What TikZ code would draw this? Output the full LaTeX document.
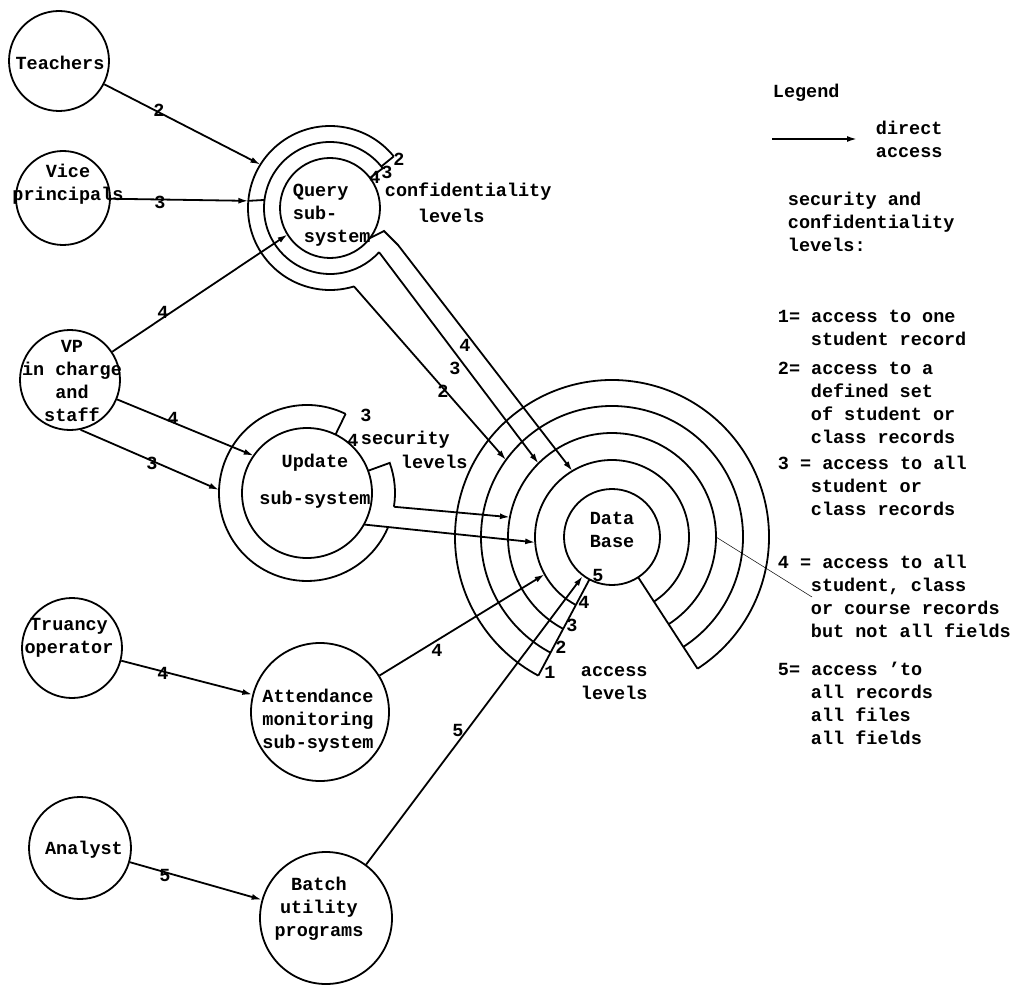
\documentclass[tikz,border=0pt]{standalone}
\usepackage{fontspec}
\setmainfont{Liberation Mono}
\usetikzlibrary{arrows.meta,calc}
\begin{document}
\begin{tikzpicture}[x=1pt,y=-1pt,line width=1.8pt,actor/.style={shape=circle,draw=black,inner sep=0pt,minimum size=#1},txt/.style={font=\fontsize{18.5}{23}\selectfont\bfseries,inner sep=0pt,align=center},lvl/.style={txt},acc/.style={-{Latex[length=10pt,width=6pt]}},leader/.style={line width=0.5pt}]
\useasboundingbox (0,0) rectangle (1024,984);
\def\qa{50};
\def\qb{66};
\def\qc{82};
\def\ua{65};
\def\ub{88};
\def\ra{157};
\def\rb{131};
\def\rc{104};
\def\rd{77};

\node[actor=100] (Te) at (59,61) {};
\node[txt] (Tet) at (60,63) {Teachers};
\node[actor=94] (Vi) at (63,198) {};
\node[txt] (Vit) at (68,184) {Vice\\principals};
\node[actor=100] (VP) at (70,380) {};
\node[txt] (VPt) at (72,381) {VP\\in charge\\and\\staff};
\node[actor=100] (Tr) at (72,648) {};
\node[txt] (Trt) at (69,638) {Truancy\\operator};
\node[actor=102] (An) at (80,848) {};
\node[txt] (Ant) at (84,850) {Analyst};

\node[actor=100] (Q) at (330,208) {};
\node[txt,align=left,anchor=west] (Qt) at (292,215) {Query\\sub-\\\hspace*{11pt}system};
\node[actor=130] (U) at (307,493) {};
\node[txt] (Ut) at (315,481) {Update\\[14pt]sub-system};
\node[actor=138] (At) at (320,712) {};
\node[txt] (Att) at (318,721) {Attendance\\monitoring\\sub-system};
\node[actor=132] (Ba) at (326,918) {};
\node[txt] (Bat) at (319,909) {Batch\\utility\\programs};
\node[actor=96] (DB) at (612,537) {};
\node[txt] (DBt) at (612,530) {Data\\Base};

\draw ($(Q)+(321:\qc)$) arc[start angle=321,end angle=73,radius=\qc];
\draw ($(Q)+(323:\qb)$) arc[start angle=323,end angle=42,radius=\qb];
\draw ($(Q)+(321:\qc)$) -- ($(Q)+(321:\qb)$);
\draw ($(Q)+(323:\qb)$) -- ($(Q)+(323:\qa)$);
\node[lvl] (Q2) at (399,159) {2};
\node[lvl] (Q4) at (375,177) {4};
\node[lvl] (Q3) at (387,172) {3};
\node[txt,anchor=west] (Qc) at (384,192) {confidentiality};
\node[txt,anchor=west] (Ql) at (417,216) {levels};

\draw ($(U)+(296:\ub)$) arc[start angle=296,end angle=23,radius=\ub];
\draw ($(U)+(296:\ua)$) -- ($(U)+(296:\ub)$);
\draw ($(U)+(340:\ua)$) -- ($(U)+(340:\ub)$) arc[start angle=340,end angle=369,radius=\ub];
\node[lvl] (U3) at (366,415) {3};
\node[lvl] (U4) at (353,440) {4};
\node[txt,anchor=west] (Us) at (360,440) {security};
\node[txt,anchor=west] (Ul) at (400,462) {levels};

\foreach \rad in {\ra,\rb,\rc,\rd}
  \draw ($(DB)+(57:\rad)$) arc[start angle=57,end angle=-242,radius=\rad];
\draw ($(DB)+(57:48)$) -- ($(DB)+(57:\ra)$);
\draw ($(DB)+(118:48)$) -- ($(DB)+(118:\ra)$);
\node[lvl] (D1) at (550,672) {1};
\node[lvl] (D2) at (561,647) {2};
\node[lvl] (D3) at (572,625) {3};
\node[lvl] (D4) at (584,602) {4};
\node[lvl] (D5) at (598,575) {5};
\node[txt,align=left,anchor=west] (Da) at (580,683) {access\\levels};

\draw[acc] (Te) -- ($(Q)+(212:\qc)$);
\node[lvl] (Te2) at (159,110) {2};
\draw[acc] (Vi) -- ($(Q)+(185:\qc)$);
\draw ($(Q)+(185:\qc)$) -- ($(Q)+(187:\qb)$);
\node[lvl] (Vi3) at (160,202) {3};
\draw[acc] (VP) -- ($(Q)+(148:\qa)$);
\node[lvl] (VP4a) at (163,312) {4};
\draw[acc] (VP) -- ($(U)+(215:\ua)$);
\node[lvl] (VP4b) at (173,418) {4};
\draw[acc] (VP.-78) -- ($(U)+(182:\ub)$);
\node[lvl] (VP3) at (152,463) {3};
\draw[acc] (Tr) -- (At);
\node[lvl] (Tr4) at (163,673) {4};
\draw[acc] (An) -- (Ba);
\node[lvl] (An5) at (165,875) {5};

\coordinate (Qk1) at (384,231);
\coordinate (Qk2) at (398,245);
\draw[acc] ($(Q)+(37:\qa)$) -- (Qk1) -- (Qk2) -- ($(DB)+(239:\rd)$);
\draw[acc] ($(Q)+(42:\qb)$) -- ($(DB)+(225:\rc)$);
\draw[acc] ($(Q)+(73:\qc)$) -- ($(DB)+(216:\rb)$);
\node[lvl] (Qd4) at (465,345) {4};
\node[lvl] (Qd3) at (455,368) {3};
\node[lvl] (Qd2) at (443,391) {2};

\draw[acc] ($(U)+(369:\ub)$) -- ($(DB)+(191:\rc)$);
\draw[acc] ($(U)+(29:\ua)$) -- ($(DB)+(176:\rd)$);
\draw[acc] (At) -- ($(DB)+(151:\rd)$);
\node[lvl] (At4) at (437,650) {4};
\draw[acc] (Ba) -- (DB);
\node[lvl] (Ba5) at (458,730) {5};

\node[txt,anchor=west] (Lg) at (772,93) {Legend};
\coordinate (Lga) at (772,139);
\coordinate (Lgb) at (857,139);
\draw[acc] (Lga) -- (Lgb);
\node[txt,align=left,anchor=west] (Lgd) at (875,139) {direct\\access};
\node[txt,align=left,anchor=west] (Lgs) at (787,222) {security and\\confidentiality\\levels:};
\node[txt,align=left,anchor=north west] (L1) at (777,309) {1= access to one\\\hspace*{33pt}student record};
\node[txt,align=left,anchor=north west] (L2) at (777,361) {2= access to a\\\hspace*{33pt}defined set\\\hspace*{33pt}of student or\\\hspace*{33pt}class records};
\node[txt,align=left,anchor=north west] (L3) at (777,455) {3 = access to all\\\hspace*{33pt}student or\\\hspace*{33pt}class records};
\node[txt,align=left,anchor=north west] (L4) at (777,554) {4 = access to all\\\hspace*{33pt}student, class\\\hspace*{33pt}or course records\\\hspace*{33pt}but not all fields};
\node[txt,align=left,anchor=north west] (L5) at (777,661) {5= access 'to\\\hspace*{33pt}all records\\\hspace*{33pt}all files\\\hspace*{33pt}all fields};
\coordinate (Lk) at (812,597);
\draw[leader] ($(DB)+(0:\rc)$) -- (Lk);
\end{tikzpicture}
\end{document}
